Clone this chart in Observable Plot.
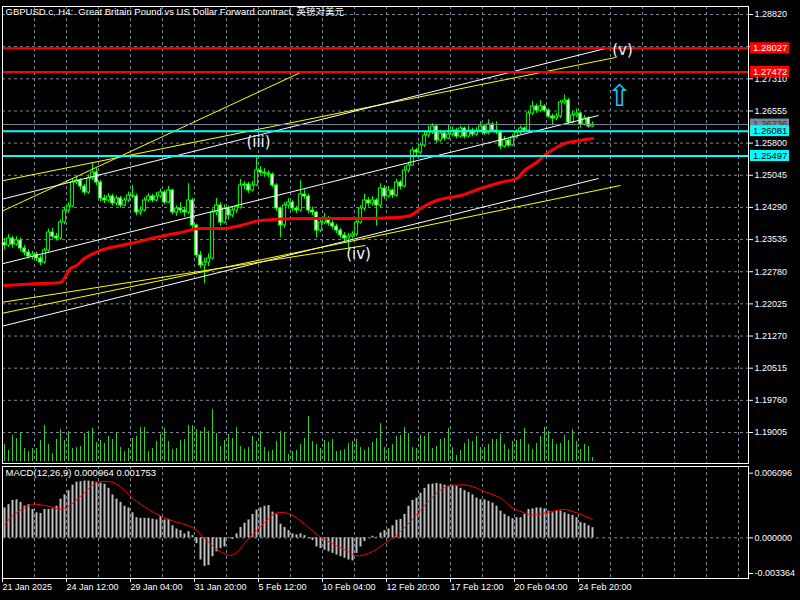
<!DOCTYPE html>
<html><head><meta charset="utf-8">
<script src="https://cdn.jsdelivr.net/npm/d3@7"></script>
<script src="https://cdn.jsdelivr.net/npm/@observablehq/plot@0.6"></script>
<style>
html,body{margin:0;padding:0;background:#000;}
#chart{position:relative;width:800px;height:600px;background:#000;overflow:hidden;}
#chart svg{position:absolute;left:0;}
</style></head><body><div id="chart"></div>
<script>
const titleText = "GBPUSD.c, H4:  Great Britain Pound vs US Dollar Forward contract, 英镑对美元";
const macdLabel = "MACD(12,26,9) 0.000964 0.001753";

const opens = [1.23450,1.23396,1.23560,1.23420,1.23514,1.23326,1.23232,1.23138,1.23185,1.23091,
 1.22997,1.23279,1.23701,1.23607,1.23560,1.23936,1.24218,1.24312,1.24875,1.24922,
 1.24781,1.24641,1.24969,1.25110,1.24875,1.24500,1.24453,1.24547,1.24382,1.24500,
 1.24335,1.24453,1.24570,1.24547,1.24171,1.24218,1.24453,1.24547,1.24453,1.24547,
 1.24641,1.24406,1.24688,1.24171,1.24265,1.24218,1.24171,1.24453,1.23866,1.23161,
 1.22927,1.22997,1.23091,1.24171,1.24335,1.23936,1.24265,1.24101,1.24218,1.24288,
 1.24805,1.24828,1.24688,1.24805,1.25157,1.25110,1.25087,1.25063,1.24805,1.24265,
 1.23866,1.24335,1.24406,1.24265,1.24218,1.24594,1.24547,1.24218,1.24171,1.23748,
 1.23936,1.24030,1.23913,1.23842,1.23748,1.23631,1.23560,1.23607,1.23654,1.23936,
 1.24265,1.24453,1.24382,1.24453,1.24335,1.24734,1.24547,1.24688,1.24570,1.24875,
 1.24781,1.25157,1.25275,1.25627,1.25580,1.25744,1.25979,1.26049,1.26190,1.25862,
 1.26026,1.25908,1.26002,1.26096,1.25955,1.26143,1.25955,1.26096,1.26002,1.26096,
 1.26190,1.26026,1.26237,1.26096,1.26049,1.25721,1.25862,1.25744,1.25932,1.26049,
 1.26143,1.26096,1.26495,1.26660,1.26566,1.26660,1.26566,1.26425,1.26378,1.26425,
 1.26754,1.26801,1.26284,1.26449,1.26495,1.26237,1.26378,1.26190];
const highs = [1.23560,1.23650,1.23610,1.23600,1.23560,1.23400,1.23300,1.23260,1.23240,1.23150,
 1.23330,1.23780,1.23800,1.23680,1.24000,1.24300,1.24400,1.24960,1.25000,1.24970,
 1.24830,1.25050,1.25320,1.25200,1.24920,1.24580,1.24620,1.24600,1.24560,1.24550,
 1.24520,1.24650,1.24800,1.24600,1.24300,1.24520,1.24620,1.24600,1.24640,1.24720,
 1.24680,1.24780,1.24720,1.24330,1.24400,1.24300,1.24850,1.24500,1.23900,1.23250,
 1.23100,1.23200,1.24250,1.24500,1.24400,1.24350,1.24320,1.24300,1.24350,1.24950,
 1.24900,1.24880,1.24900,1.25460,1.25250,1.25200,1.25150,1.25100,1.24850,1.24300,
 1.24400,1.24500,1.24450,1.24320,1.24920,1.24700,1.24600,1.24300,1.24200,1.24000,
 1.24150,1.24080,1.23980,1.23900,1.23800,1.23700,1.23680,1.23720,1.24000,1.24330,
 1.24600,1.24520,1.24550,1.24500,1.24850,1.24800,1.24780,1.24720,1.24950,1.24920,
 1.25250,1.25350,1.25700,1.25680,1.25800,1.26050,1.26200,1.26260,1.26230,1.26100,
 1.26080,1.26220,1.26180,1.26150,1.26200,1.26180,1.26200,1.26150,1.26160,1.26300,
 1.26240,1.26350,1.26280,1.26300,1.26100,1.25950,1.25900,1.26000,1.26120,1.26200,
 1.26180,1.26560,1.26780,1.26720,1.26800,1.26700,1.26600,1.26480,1.26500,1.26800,
 1.26930,1.26850,1.26550,1.26600,1.26520,1.26450,1.26420,1.26300];
const lows = [1.23300,1.23350,1.23330,1.23380,1.23250,1.23150,1.23080,1.23060,1.23020,1.22920,
 1.22960,1.23240,1.23550,1.23500,1.23520,1.23880,1.24150,1.24280,1.24820,1.24700,
 1.24580,1.24600,1.24920,1.24800,1.24420,1.24380,1.24400,1.24320,1.24330,1.24270,
 1.24300,1.24400,1.24500,1.24100,1.24100,1.24180,1.24400,1.24400,1.24420,1.24500,
 1.24350,1.24380,1.24120,1.24080,1.24150,1.24060,1.24120,1.23800,1.23100,1.22850,
 1.22505,1.22900,1.23050,1.24100,1.23850,1.23900,1.24000,1.24050,1.24150,1.24250,
 1.24700,1.24620,1.24650,1.24780,1.25050,1.25000,1.24980,1.24750,1.24200,1.23580,
 1.23800,1.24250,1.24200,1.24150,1.24180,1.24480,1.24150,1.24100,1.23580,1.23700,
 1.23880,1.23850,1.23780,1.23680,1.23560,1.23480,1.23330,1.23550,1.23600,1.23900,
 1.24200,1.24300,1.24320,1.23850,1.24280,1.24480,1.24500,1.24500,1.24530,1.24700,
 1.24750,1.25100,1.25250,1.25500,1.25520,1.25700,1.25920,1.26000,1.25800,1.25820,
 1.25850,1.25880,1.25950,1.25900,1.25920,1.25900,1.25920,1.25950,1.25960,1.26050,
 1.25980,1.25990,1.26050,1.26000,1.25650,1.25680,1.25700,1.25720,1.25900,1.26000,
 1.26040,1.26060,1.26450,1.26500,1.26520,1.26520,1.26380,1.26200,1.26330,1.26380,
 1.26700,1.26230,1.26250,1.26400,1.26150,1.26200,1.26150,1.26160];
const closes = [1.23396,1.23560,1.23420,1.23514,1.23326,1.23232,1.23138,1.23185,1.23091,1.22997,
 1.23279,1.23701,1.23607,1.23560,1.23936,1.24218,1.24312,1.24875,1.24922,1.24781,
 1.24641,1.24969,1.25110,1.24875,1.24500,1.24453,1.24547,1.24382,1.24500,1.24335,
 1.24453,1.24570,1.24547,1.24171,1.24218,1.24453,1.24547,1.24453,1.24547,1.24641,
 1.24406,1.24688,1.24171,1.24265,1.24218,1.24171,1.24453,1.23866,1.23161,1.22927,
 1.22997,1.23091,1.24171,1.24335,1.23936,1.24265,1.24101,1.24218,1.24288,1.24805,
 1.24828,1.24688,1.24805,1.25157,1.25110,1.25087,1.25063,1.24805,1.24265,1.23866,
 1.24335,1.24406,1.24265,1.24218,1.24594,1.24547,1.24218,1.24171,1.23748,1.23936,
 1.24030,1.23913,1.23842,1.23748,1.23631,1.23560,1.23607,1.23654,1.23936,1.24265,
 1.24453,1.24382,1.24453,1.24335,1.24734,1.24547,1.24688,1.24570,1.24875,1.24781,
 1.25157,1.25275,1.25627,1.25580,1.25744,1.25979,1.26049,1.26190,1.25862,1.26026,
 1.25908,1.26002,1.26096,1.25955,1.26143,1.25955,1.26096,1.26002,1.26096,1.26190,
 1.26026,1.26237,1.26096,1.26049,1.25721,1.25862,1.25744,1.25932,1.26049,1.26143,
 1.26096,1.26495,1.26660,1.26566,1.26660,1.26566,1.26425,1.26378,1.26425,1.26754,
 1.26801,1.26284,1.26449,1.26495,1.26237,1.26378,1.26190,1.26236];
const volumes = [1700,1100,2600,2300,2900,1300,1000,1300,1300,2100,
 3600,1700,800,2200,3200,2100,3000,1300,1400,1500,
 2800,3000,3300,1900,2100,1800,2500,2200,2800,1400,
 1000,1300,2300,2500,3400,3400,1000,1300,2000,2700,
 3300,2000,1200,1300,2100,2200,3600,3600,3200,3000,
 3400,3000,5200,2800,1500,2100,2700,2300,3400,1500,
 1200,1400,2500,2000,3000,1400,1000,1100,2000,3000,
 2800,700,1000,1100,1700,2300,4500,2000,1700,1300,
 2100,1900,2200,1000,1100,1200,1800,2000,2200,1400,
 1100,1400,1900,2300,3800,1400,1300,1700,2500,2600,
 3400,2800,1400,1300,2600,2500,2800,1300,1500,2200,
 2300,3300,1400,600,1100,1800,2200,2000,2500,1400,
 1400,1700,2200,2200,2700,1700,1200,2000,2100,2200,
 3300,1700,1200,1800,2500,3400,3000,2200,1700,1800,
 2600,2100,3200,2000,1200,1700,1500,400];
const macdMain = [0.00282,0.00313,0.00353,0.00359,0.00335,0.00298,0.00313,0.00267,0.00236,0.00230,
 0.00267,0.00267,0.00273,0.00298,0.00365,0.00405,0.00445,0.00497,0.00525,0.00530,
 0.00535,0.00535,0.00530,0.00525,0.00515,0.00505,0.00467,0.00405,0.00365,0.00335,
 0.00298,0.00282,0.00236,0.00190,0.00184,0.00184,0.00184,0.00175,0.00169,0.00200,
 0.00169,0.00175,0.00114,0.00083,0.00068,0.00037,0.00058,0.00021,-0.00055,-0.00209,
 -0.00270,-0.00261,-0.00178,-0.00132,-0.00101,-0.00086,-0.00009,-0.00015,0.00037,0.00098,
 0.00138,0.00169,0.00221,0.00261,0.00282,0.00298,0.00304,0.00243,0.00221,0.00129,
 0.00098,0.00068,0.00037,0.00028,0.00037,0.00021,-0.00009,-0.00025,-0.00086,-0.00101,
 -0.00117,-0.00132,-0.00147,-0.00163,-0.00178,-0.00193,-0.00209,-0.00218,-0.00147,-0.00086,
 -0.00034,0.00002,0.00015,0.00006,0.00046,0.00068,0.00083,0.00114,0.00166,0.00175,
 0.00221,0.00298,0.00353,0.00375,0.00421,0.00467,0.00503,0.00507,0.00513,0.00507,
 0.00497,0.00488,0.00497,0.00488,0.00467,0.00445,0.00427,0.00405,0.00375,0.00359,
 0.00359,0.00344,0.00328,0.00298,0.00252,0.00221,0.00200,0.00181,0.00190,0.00190,
 0.00221,0.00267,0.00273,0.00282,0.00282,0.00273,0.00252,0.00236,0.00252,0.00252,
 0.00236,0.00221,0.00212,0.00190,0.00144,0.00135,0.00114,0.00096];
const signalIdx = [0,2,7,11,14,16,19,23,26.5,29,32,36,39,42,47,51,54,57,61,65,68,71.5,76,79,82,86,88,91,95,99,102,106,109,111.5,116,120,124,127,130,132,136.5,140,143,147];
const signalVal = [0.00123,0.00206,0.00313,0.00298,0.00273,0.00298,0.00390,0.00519,0.00528,0.00482,
 0.00375,0.00267,0.00206,0.00160,0.00098,-0.00040,-0.00132,-0.00163,-0.00009,0.00144,
 0.00236,0.00221,0.00098,0.00006,-0.00055,-0.00132,-0.00169,-0.00147,-0.00055,0.00060,
 0.00175,0.00344,0.00451,0.00491,0.00494,0.00436,0.00375,0.00282,0.00236,0.00215,
 0.00246,0.00267,0.00236,0.00175];
const maIdx = [0,9,14,16.5,18,20,24,31.5,39,44,49,55,59,64,74,89,98,101.5,104,108,114,119,124,128,130,133,135,138,140,144,147];
const maVal = [1.22457,1.22504,1.22528,1.22856,1.22927,1.23091,1.23279,1.23443,1.23607,1.23701,
 1.23795,1.23795,1.23866,1.23983,1.24030,1.24030,1.24054,1.24101,1.24265,1.24453,
 1.24570,1.24734,1.24875,1.24969,1.25157,1.25345,1.25509,1.25697,1.25791,1.25862,1.25908];

const priceTicks = [1.28820,1.28065,1.27310,1.26555,1.25800,1.25045,1.24290,1.23535,1.22780,1.22025,1.21270,1.20515,1.19760,1.19005];
const hiddenTick = 1.28065; // covered by the 1.28027 price tag in the reference
const macdTicks = [0.006096, 0, -0.003364];
const timeIdx = [-0.5,15.5,31.5,47.5,63.5,79.5,95.5,111.5,127.5,143.5];
const timeLabels = ["21 Jan 2025","24 Jan 12:00","29 Jan 04:00","31 Jan 20:00","5 Feb 12:00","10 Feb 04:00","12 Feb 20:00","17 Feb 12:00","20 Feb 04:00","24 Feb 20:00"];
const gridIdx = d3.range(1, 24).map(k => -0.5 + 8 * k);

const levelPrice = [1.28027, 1.27472, 1.26236, 1.26081, 1.25497];
const levelColor = ["#ff0000", "#ff0000", "#778899", "#00ffff", "#00ffff"];
const levelWidth = [2, 2, 1, 2, 2];
const tagText = ["#ffffff", "#ffffff", "#2b2f36", "#000000", "#000000"];

const lineStartIdx = [-0.5, -0.5, -0.5, -0.5, -0.5, -0.5, -0.5];
const lineStartPrice = [1.24206, 1.24916, 1.24485, 1.22967, 1.21503, 1.21805, 1.22063];
const lineEndIdx = [74, 152.75, 150.25, 148.5, 148.5, 154, 90.25];
const lineEndPrice = [1.27458, 1.27810, 1.28022, 1.26449, 1.24969, 1.24805, 1.23396];
const lineColor = ["#ffff00", "#ffff00", "#ffffff", "#ffffff", "#ffffff", "#ffff00", "#ffff00"];

const waveText = ["(iii)", "(iv)", "(v)"];
const waveIdx = [63.5, 88.5, 154.5];
const wavePrice = [1.25815, 1.23185, 1.27975];
const arrowIdx = [153.75];
const arrowPrice = [1.26895];

const candles = closes.map((c, i) => ({i, o: opens[i], h: highs[i], l: lows[i], c, v: volumes[i], m: macdMain[i]}));
const signal = signalIdx.map((i, k) => ({i, v: signalVal[k]}));
const ma = maIdx.map((i, k) => ({i, v: maVal[k]}));
const levels = levelPrice.map((p, k) => ({p, color: levelColor[k], w: levelWidth[k], fg: tagText[k]}));
const tlines = lineStartIdx.map((i1, k) => ({i1, p1: lineStartPrice[k], i2: lineEndIdx[k], p2: lineEndPrice[k], c: lineColor[k]}));
const waves = waveText.map((t, k) => ({t, i: waveIdx[k], p: wavePrice[k]}));
const arrows = arrowIdx.map((i, k) => ({i, p: arrowPrice[k]}));

const FONT = "'Liberation Sans', 'Noto Sans CJK SC', sans-serif";
const GRID = "#778899";
const xDomain = [-0.5, 186];

function priceTags(index, scales, values, dims) {
  const g = d3.create("svg:g").attr("text-anchor", "start");
  const x0 = dims.width - dims.marginRight + 1;
  for (const d of levels) {
    const y = scales.y(d.p);
    g.append("rect").attr("x", x0 + 1).attr("y", y - 5.5).attr("width", 39).attr("height", 11).attr("fill", d.color);
    g.append("text").attr("x", x0 + 4).attr("y", y).attr("dy", "0.36em").attr("fill", d.fg)
      .attr("text-anchor", "start").attr("font-size", 9.5).attr("font-family", FONT).text(d.p.toFixed(5));
  }
  return g.node();
}

const main = Plot.plot({
  width: 800, height: 466,
  marginLeft: 2, marginRight: 52, marginTop: 6, marginBottom: 3,
  style: {background: "#000", color: "#fff", fontFamily: FONT, fontSize: "9px", overflow: "visible"},
  x: {domain: xDomain, axis: null},
  y: {domain: [1.18277, 1.29008], axis: null},
  marks: [
    Plot.gridY(priceTicks, {stroke: GRID, strokeOpacity: 1, strokeDasharray: "3,3"}),
    Plot.gridX(gridIdx, {stroke: GRID, strokeOpacity: 1, strokeDasharray: "3,3"}),
    Plot.ruleX(candles, {x: "i", y1: "l", y2: "h", stroke: "#00ff00", strokeWidth: 1}),
    Plot.rect(candles, {x1: d => d.i - 0.4, x2: d => d.i + 0.4, y1: "o", y2: "c",
      fill: d => d.c >= d.o ? "#000000" : "#ffffff", stroke: "#00ff00", strokeWidth: 1}),
    Plot.line(ma, {x: "i", y: "v", stroke: "#ff0000", strokeWidth: 3, curve: "monotone-x"}),
    Plot.link(tlines, {x1: "i1", y1: "p1", x2: "i2", y2: "p2", stroke: "c", strokeWidth: 1, clip: true}),
    Plot.ruleY(levels, {y: "p", stroke: "color", strokeWidth: "w"}),
    Plot.text(waves, {x: "i", y: "p", text: "t", fill: "#eef4ff", fontSize: 15, fontFamily: "DejaVu Sans"}),
    Plot.text(arrows, {x: "i", y: "p", text: () => "⇧", fill: "#19c8ff", fontSize: 30, fontFamily: "DejaVu Sans"}),
    Plot.axisY(priceTicks, {anchor: "right", label: null, tickSize: 4, tickPadding: 2,
      tickFormat: d => d === hiddenTick ? "" : d.toFixed(5), color: "#fff", fontSize: 9}),
    Plot.frame({stroke: "#fff"}),
    priceTags,
    Plot.text([titleText], {text: d => d, frameAnchor: "top-left", dx: 3, dy: 2, lineAnchor: "top", textAnchor: "start", fill: "#fff", fontSize: 9.5})
  ]
});
main.style.top = "0px";

const vol = Plot.plot({
  width: 800, height: 60,
  marginLeft: 2, marginRight: 52, marginTop: 0, marginBottom: 3,
  style: {background: "transparent", overflow: "visible"},
  x: {domain: xDomain, axis: null},
  y: {domain: [0, 5700], axis: null},
  marks: [
    Plot.ruleX(candles, {x: "i", y1: 0, y2: "v", stroke: "#32cd32", strokeWidth: 1})
  ]
});
vol.style.top = "404px";

const timeMap = new Map(timeIdx.map((t, k) => [t, timeLabels[k]]));
const macdPlot = Plot.plot({
  width: 800, height: 136,
  marginLeft: 2, marginRight: 52, marginTop: 2, marginBottom: 22,
  style: {background: "#000", color: "#fff", fontFamily: FONT, fontSize: "9px", overflow: "visible"},
  x: {domain: xDomain, axis: null},
  y: {domain: [-0.003836, 0.006728], axis: null},
  marks: [
    Plot.gridX(gridIdx, {stroke: GRID, strokeOpacity: 1, strokeDasharray: "3,3"}),
    Plot.ruleY([0], {stroke: GRID, strokeDasharray: "3,3"}),
    Plot.ruleX(candles, {x: "i", y1: 0, y2: "m", stroke: "#c0c0c0", strokeWidth: 2}),
    Plot.line(signal, {x: "i", y: "v", stroke: "#ff0000", strokeWidth: 1, curve: "catmull-rom"}),
    Plot.axisY(macdTicks, {anchor: "right", label: null, tickSize: 4, tickPadding: 2, tickFormat: d => d === 0 ? "0.000000" : d.toFixed(6), color: "#fff", fontSize: 9}),
    Plot.axisX(timeIdx, {anchor: "bottom", label: null, tickSize: 4, tickPadding: 1, tickFormat: d => timeMap.get(d), textAnchor: "start", color: "#fff", fontSize: 9}),
    Plot.frame({stroke: "#fff"}),
    Plot.text([macdLabel], {text: d => d, frameAnchor: "top-left", dx: 3, dy: 3, lineAnchor: "top", textAnchor: "start", fill: "#fff", fontSize: 9.5})
  ]
});
macdPlot.style.top = "464px";

const chart = document.getElementById("chart");
chart.append(main, vol, macdPlot);
</script></body></html>
